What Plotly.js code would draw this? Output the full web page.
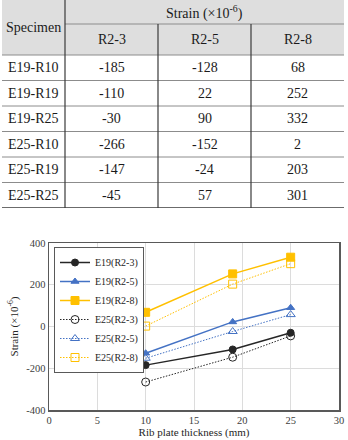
<!DOCTYPE html>
<html>
<head>
<meta charset="utf-8">
<script src="https://cdn.plot.ly/plotly-3.0.1.min.js"></script>
<style>
  html, body { margin: 0; padding: 0; background: #ffffff; }
  #chart { width: 348px; height: 440px; }
</style>
</head>
<body>
<div id="chart"></div>
<script>
// ---- data ----
const thickness = [10, 19, 25];
const e19_r23 = [-185, -110, -30];
const e19_r25 = [-128, 22, 90];
const e19_r28 = [68, 252, 332];
const e25_r23 = [-266, -147, -45];
const e25_r25 = [-152, -24, 57];
const e25_r28 = [2, 203, 301];
const seriesNames = ["E19(R2-3)", "E19(R2-5)", "E19(R2-8)", "E25(R2-3)", "E25(R2-5)", "E25(R2-8)"];
const gauges = ["R2-3", "R2-5", "R2-8"];
const specimens = ["E19-R10", "E19-R19", "E19-R25", "E25-R10", "E25-R19", "E25-R25"];
const xTicks = [0, 5, 10, 15, 20, 25, 30];
const yTicks = [-400, -200, 0, 200, 400];

// ---- styles / layout constants ----
const FONT = "Liberation Serif";
const BLUE = "#4472C4", GOLD = "#FFC000", BLACK = "#262626";
const colEdges = [0, 63, 156, 249, 342];          // table column edges (px units of x2)
const headEdges = [0, 24, 55];                     // header row edges
const bodyTop = 55, rowH = 25.5;                   // body row geometry

const series = [e19_r23, e19_r25, e19_r28, e25_r23, e25_r25, e25_r28];
const DOT = "1.5px,1.5px";
const styles = [
  {color: BLACK, dash: "solid", symbol: "circle", size: 7, width: 1.5},
  {color: BLUE,  dash: "solid", symbol: "triangle-up", size: 7, width: 1.5},
  {color: GOLD,  dash: "solid", symbol: "square", size: 8, width: 1.5},
  {color: BLACK, dash: DOT,     symbol: "circle-open", size: 8, width: 1},
  {color: BLUE,  dash: DOT,     symbol: "triangle-up-open", size: 8, width: 1},
  {color: GOLD,  dash: DOT,     symbol: "square-open", size: 8, width: 1}
];

const traces = series.map((ys, i) => ({
  type: "scatter", mode: "lines+markers",
  x: thickness, y: ys, name: seriesNames[i],
  xaxis: "x", yaxis: "y",
  line: {color: styles[i].color, dash: styles[i].dash, width: styles[i].width},
  marker: {color: styles[i].color, symbol: styles[i].symbol, size: styles[i].size,
           line: {color: styles[i].color, width: 1}}
}));

// ---- table (drawn on hidden axes x2/y2) ----
const shapes = [];
const annotations = [];
const lineGray = "#8c8c8c", lineDark = "#3a3a3a";
const tableBottom = bodyTop + rowH * specimens.length;
shapes.push({type: "rect", xref: "x2", yref: "y2", x0: colEdges[0], x1: colEdges[4],
  y0: headEdges[0], y1: headEdges[2], fillcolor: "#dedede", line: {width: 0}, layer: "below"});
shapes.push({type: "line", xref: "x2", yref: "y2", x0: colEdges[1], x1: colEdges[4],
  y0: headEdges[1], y1: headEdges[1], line: {color: lineGray, width: 1}});
for (let r = 0; r < specimens.length; r++) {
  const y = bodyTop + rowH * r;
  shapes.push({type: "line", xref: "x2", yref: "y2", x0: colEdges[0], x1: colEdges[4],
    y0: y, y1: y, line: {color: lineGray, width: 1}});
}
shapes.push({type: "line", xref: "x2", yref: "y2", x0: colEdges[0], x1: colEdges[4],
  y0: tableBottom, y1: tableBottom, line: {color: lineDark, width: 1.3}});
shapes.push({type: "line", xref: "x2", yref: "y2", x0: colEdges[1], x1: colEdges[1],
  y0: 0, y1: tableBottom, line: {color: lineDark, width: 1.2}});
for (let c = 2; c <= 3; c++) {
  shapes.push({type: "line", xref: "x2", yref: "y2", x0: colEdges[c], x1: colEdges[c],
    y0: headEdges[1], y1: tableBottom, line: {color: lineDark, width: 1.2}});
}
const cellFont = {family: FONT, size: 14, color: "#1a1a1a"};
function cell(text, x, y) {
  annotations.push({xref: "x2", yref: "y2", x: x, y: y, text: text, showarrow: false,
    xanchor: "center", yanchor: "middle", font: cellFont});
}
cell("Specimen", (colEdges[0] + colEdges[1]) / 2, (headEdges[0] + headEdges[2]) / 2);
cell("Strain (×10<sup>-6</sup>)", (colEdges[1] + colEdges[4]) / 2, (headEdges[0] + headEdges[1]) / 2);
gauges.forEach((g, c) => cell(g, (colEdges[c + 1] + colEdges[c + 2]) / 2, (headEdges[1] + headEdges[2]) / 2));
const groups = [[e19_r23, e19_r25, e19_r28], [e25_r23, e25_r25, e25_r28]];
specimens.forEach((s, r) => {
  const yc = bodyTop + rowH * (r + 0.5);
  cell(s, (colEdges[0] + colEdges[1]) / 2, yc);
  const grp = groups[Math.floor(r / thickness.length)];
  const k = r % thickness.length;
  grp.forEach((arr, c) => cell(String(arr[k]), (colEdges[c + 1] + colEdges[c + 2]) / 2, yc));
});

const W = 348, H = 440, mL = 2, mR = 4, mT = 0, mB = 30;
const plotW = W - mL - mR, plotH = H - mT - mB;
const layout = {
  width: W, height: H,
  margin: {l: mL, r: mR, t: mT, b: mB, pad: 0},
  paper_bgcolor: "#ffffff", plot_bgcolor: "#ffffff",
  font: {family: FONT, color: "#404040"},
  showlegend: true,
  legend: {
    x: (54 - mL) / plotW, y: (H - mB - 247) / plotH, xanchor: "left", yanchor: "top",
    bgcolor: "#ffffff", bordercolor: "#595959", borderwidth: 1,
    font: {family: FONT, size: 10, color: "#262626"}, tracegroupgap: 0
  },
  xaxis: {
    domain: [(49 - mL) / plotW, (339 - mL) / plotW], anchor: "y",
    range: [0, 30], tickvals: xTicks, ticktext: xTicks.map(String),
    showgrid: true, gridcolor: "#dcdcdc", gridwidth: 1, zeroline: false,
    showline: true, linecolor: "#595959", linewidth: 1.5, mirror: true,
    ticks: "", tickfont: {family: FONT, size: 10.5, color: "#404040"},
    automargin: false,
    title: {text: "Rib plate thickness (mm)", font: {family: FONT, size: 11, color: "#262626"}, standoff: 2}
  },
  yaxis: {
    domain: [0, (410 - 243) / plotH], anchor: "x",
    range: [-400, 400], tickvals: yTicks, ticktext: yTicks.map(String),
    showgrid: true, gridcolor: "#dcdcdc", gridwidth: 1, zeroline: false,
    showline: true, linecolor: "#595959", linewidth: 1.5, mirror: true,
    ticks: "", tickfont: {family: FONT, size: 10.5, color: "#404040"},
    automargin: false,
    title: {text: "Strain (×10<sup>-6</sup>)", font: {family: FONT, size: 11, color: "#262626"}, standoff: 5}
  },
  xaxis2: {domain: [0, 1], anchor: "y2", range: [0, plotW], visible: false, fixedrange: true},
  yaxis2: {domain: [(410 - 208) / plotH, 1], anchor: "x2", range: [208, 0], visible: false, fixedrange: true},
  shapes: shapes,
  annotations: annotations
};

Plotly.newPlot("chart", traces, layout, {staticPlot: true, displayModeBar: false});
</script>
</body>
</html>
